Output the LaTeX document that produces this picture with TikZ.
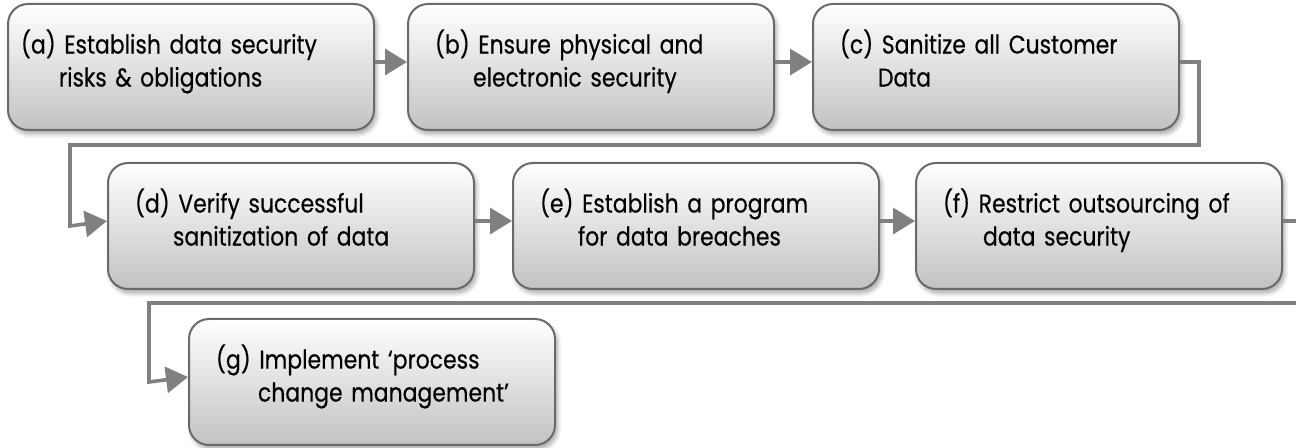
\documentclass[tikz,border=0pt]{standalone}
\usepackage{fontspec}
\setmainfont{Poppins}[FakeStretch=0.85,FakeBold=0.35]
\usetikzlibrary{arrows.meta,shadows.blur}
\definecolor{linegray}{HTML}{808080}
\definecolor{bordergray}{HTML}{6A6A6A}
\definecolor{boxbottom}{HTML}{C2C2C2}
\tikzset{
  stepbox/.style={draw=bordergray, line width=1pt, rounded corners=10pt,
    top color=white, bottom color=boxbottom,
    minimum width=183pt, minimum height=63pt, text width=156pt,
    inner xsep=13.5pt, inner ysep=0pt, align=left, anchor=north west,
    font=\fontsize{12.9pt}{16.5pt}\selectfont,
    execute at end node={\rule[-9pt]{0pt}{9pt}},
    blur shadow={shadow xshift=1.2pt, shadow yshift=-2pt, shadow blur steps=6, shadow opacity=35}},
  flow/.style={draw=linegray, line width=1.8pt,
    -{Triangle[length=11pt,width=13pt,fill=linegray]}},
}
\begin{document}
\begin{tikzpicture}[x=0.5pt,y=-0.5pt]
\useasboundingbox (0,0) rectangle (1296,448);
\node[stepbox] (a) at (7,3) {\hspace*{-7pt}(a) Establish data security\\\hspace*{12pt}risks \& obligations};
\node[stepbox] (b) at (407,3) {(b) Ensure physical and\\\hspace*{19pt}electronic security};
\node[stepbox] (c) at (812,3) {(c) Sanitize all Customer\\\hspace*{19pt}Data};
\node[stepbox] (d) at (107,162) {(d) Verify successful\\\hspace*{19pt}sanitization of data};
\node[stepbox] (e) at (512,162) {(e) Establish a program\\\hspace*{19pt}for data breaches};
\node[stepbox] (f) at (915,162) {(f) Restrict outsourcing of\\\hspace*{20pt}data security};
\node[stepbox] (g) at (188,318) {(g) Implement `process\\\hspace*{21pt}change management'};
\coordinate (c1) at (1199,0);
\coordinate (c2) at (70,145);
\coordinate (f1) at (1310,0);
\coordinate (f2) at (149,303);
\draw[flow] ([yshift=2.5pt]a.east) -- ([yshift=2.5pt]b.west);
\draw[flow] ([yshift=2.5pt]b.east) -- ([yshift=2.5pt]c.west);
\draw[flow] ([yshift=2.5pt]c.east) -| (c1 |- c2) -| (c2 |- d.west) -- ([yshift=2.5pt]d.west);
\draw[flow] ([yshift=2.5pt]d.east) -- ([yshift=2.5pt]e.west);
\draw[flow] ([yshift=2.5pt]e.east) -- ([yshift=2.5pt]f.west);
\draw[flow] ([yshift=2.5pt]f.east) -| (f1 |- f2) -| (f2 |- g.west) -- ([yshift=2.5pt]g.west);
\end{tikzpicture}
\end{document}
